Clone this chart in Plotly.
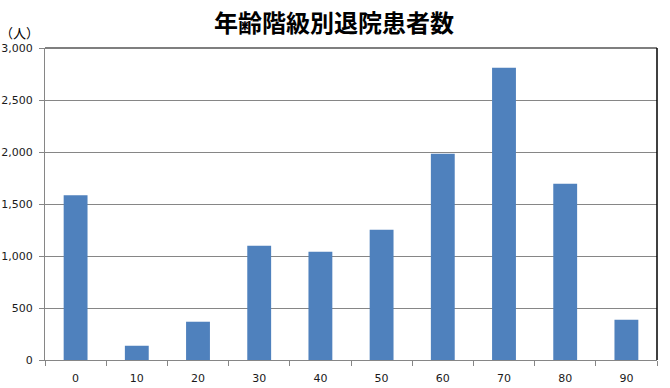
import plotly.graph_objects as go

categories = ["0", "10", "20", "30", "40", "50", "60", "70", "80", "90"]
patients = [1583, 137, 368, 1099, 1041, 1253, 1984, 2811, 1695, 387]
y_ticks = [0, 500, 1000, 1500, 2000, 2500, 3000]
y_tick_labels = ["0", "500", "1,000", "1,500", "2,000", "2,500", "3,000"]

W, H = 670, 388
# plot area in page pixels
X0, X1, Y0, Y1 = 45, 657, 48, 360
L, R, T, B = X0, W - X1, Y0, H - Y1
pw, ph = X1 - X0, Y1 - Y0

fig = go.Figure(go.Bar(
    x=categories, y=patients,
    marker=dict(color="#4F81BD", line=dict(width=0)),
))

fig.update_layout(
    width=W, height=H,
    margin=dict(l=L, r=R, t=T, b=B, autoexpand=False),
    paper_bgcolor="white", plot_bgcolor="white",
    bargap=0.61,
    showlegend=False,
    font=dict(family="DejaVu Sans", size=11, color="#1a1a1a"),
)

fig.update_xaxes(
    type="category", automargin=False,
    showline=True, linecolor="#868686", linewidth=1,
    ticks="outside", ticklen=5, tickcolor="#868686", tickwidth=1,
    tickson="boundaries",
    ticklabelstandoff=8,
    showgrid=False,
)
fig.update_yaxes(
    range=[0, 3000], automargin=False,
    tickvals=y_ticks, ticktext=y_tick_labels,
    showline=True, linecolor="#868686", linewidth=1,
    ticks="outside", ticklen=5, tickcolor="#868686", tickwidth=1,
    showgrid=True, gridcolor="#868686", gridwidth=1,
    ticklabelstandoff=4,
    zeroline=False,
)

# top and right black frame lines
fig.add_shape(type="line", xref="paper", yref="paper", x0=0, x1=1, y0=1, y1=1,
              line=dict(color="#000000", width=1.2))
fig.add_shape(type="line", xref="paper", yref="paper", x0=1, x1=1, y0=0, y1=1,
              line=dict(color="#000000", width=1.5))

# title
fig.add_annotation(
    text="<b>年齢階級別退院患者数</b>", xref="paper", yref="paper",
    x=(333.5 - X0) / pw, y=(Y1 - 21) / ph,
    xanchor="center", yanchor="middle", showarrow=False,
    font=dict(family="Noto Sans CJK JP", size=24, color="#000000"),
)

fig.add_annotation(
    text="（人）", xref="paper", yref="paper",
    x=(19 - X0) / pw, y=(Y1 - 33) / ph,
    xanchor="center", yanchor="middle", showarrow=False,
    font=dict(family="Noto Sans CJK JP", size=13, color="#000000"),
)

fig.write_html(
    "out.html",
    config={"displayModeBar": False},
    post_script="document.body.style.margin='0px';document.body.style.overflow='hidden';",
)
